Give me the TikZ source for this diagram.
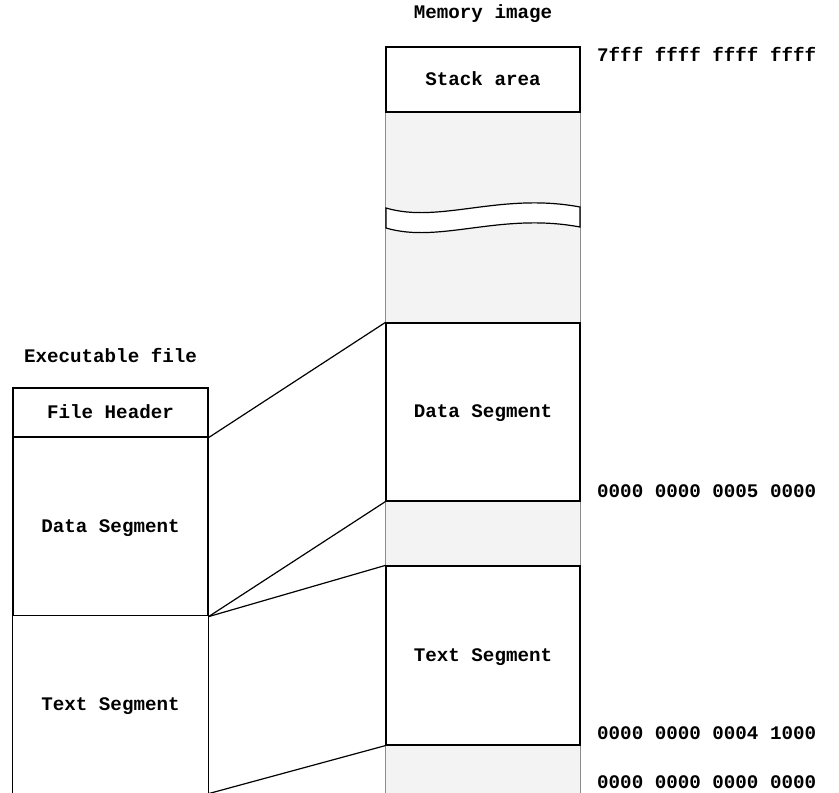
\documentclass[tikz,border=0pt]{standalone}
\usepackage{fontspec}
\setmonofont{Liberation Mono}
\definecolor{gapgray}{HTML}{F3F3F3}
\definecolor{gapedge}{HTML}{8C8C8C}
\tikzset{
  lbl/.style={font=\ttfamily\bfseries\fontsize{19.2}{22}\selectfont, inner sep=0pt},
  seg/.style={draw=black, line width=1.2pt, fill=white, minimum width=194pt,
              inner sep=0pt, lbl, text height=11pt, text depth=0pt},
  gapbox/.style={fill=gapgray, draw=none, minimum width=194pt, inner sep=0pt},
  gapline/.style={draw=gapedge, line width=1.2pt},
  link/.style={line width=1.2pt},
  addr/.style={lbl, anchor=base west},
  title/.style={lbl, anchor=base},
}
\begin{document}
\begin{tikzpicture}[x=1pt, y=-1pt]
  \useasboundingbox (0,0) rectangle (839,793);

  % titles
  \node[title] (memtitle) at (483,18) {Memory image};
  \node[title] (filetitle) at (110.5,362) {Executable file};

  % memory image: unused (gray) ranges
  \node[gapbox, minimum height=211pt] (mgapA) at (483,217.5) {};
  \node[gapbox, minimum height=65pt]  (mgapB) at (483,533.5) {};
  \node[gapbox, minimum height=60pt]  (mgapC) at (483,775) {};
  \foreach \g in {mgapA, mgapB, mgapC} {
    \draw[gapline] (\g.north west) -- (\g.south west)
                   (\g.north east) -- (\g.south east);
  }

  % memory image: mapped areas
  \node[seg, minimum height=65pt]  (stack) at (483,79.5) {Stack area};
  \node[seg, minimum height=178pt] (mdata) at (483,412)  {Data Segment};
  \node[seg, minimum height=179pt] (mtext) at (483,655.5) {Text Segment};

  % break in the address range
  \filldraw[fill=white, draw=black, line width=1.2pt]
    (386,208) .. controls (440,224) and (500,192) .. (580,207)
    -- (580,227) .. controls (500,212) and (440,244) .. (386,228) -- cycle;

  % executable file
  \node[seg, minimum width=195pt, minimum height=49pt]  (fhead) at (110.5,412.5) {File Header};
  \node[seg, minimum width=195pt, minimum height=179pt] (fdata) at (110.5,526.5) {Data Segment};
  \node[seg, draw=none, minimum width=195pt, minimum height=177pt] (ftext) at (110.5,704.5) {Text Segment};
  \draw[link] (ftext.south west) -- (ftext.north west) -- (ftext.north east) -- (ftext.south east);

  % mapping of file sections into memory
  \draw[link] (fhead.south east) -- (mdata.north west);
  \draw[link] (fdata.south east) -- (mdata.south west);
  \draw[link] (fdata.south east) -- (mtext.north west);
  \draw[link] (ftext.south east) -- (mtext.south west);

  % addresses
  \node[addr] (a1) at (597,61)  {7fff ffff ffff ffff};
  \node[addr] (a2) at (597,497) {0000 0000 0005 0000};
  \node[addr] (a3) at (597,739) {0000 0000 0004 1000};
  \node[addr] (a4) at (597,788) {0000 0000 0000 0000};
\end{tikzpicture}
\end{document}
